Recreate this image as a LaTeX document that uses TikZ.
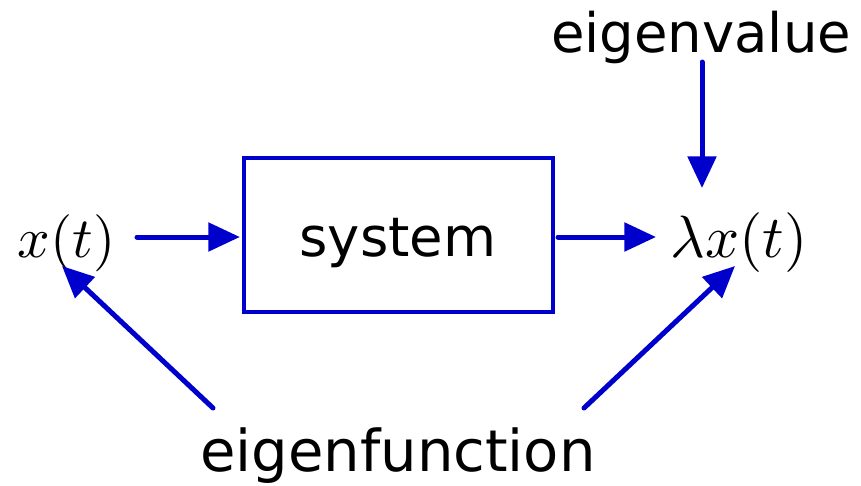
\documentclass[tikz,border=0pt]{standalone}
\usepackage{graphicx}
\usepackage{fontspec}
\setmainfont{DejaVu Sans}
\usetikzlibrary{arrows.meta}
\definecolor{sysblue}{RGB}{0,0,204}
\begin{document}
\begin{tikzpicture}[x=0.02cm,y=-0.02cm,
  lbl/.style={font=\fontsize{31}{36}\selectfont, inner sep=0pt, anchor=base},
  mathlbl/.style={inner sep=0pt, anchor=base},
  arr/.style={draw=sysblue, line width=2.85pt, line cap=round, -{Triangle[length=18pt,width=16pt]}}]
\useasboundingbox (0,0) rectangle (861,485);
\node[draw=sysblue, line width=2.3pt, minimum width=6.18cm, minimum height=3.08cm, inner sep=0pt] (sys) at (398.5,235) {};
\node[lbl] (systxt) at (398,256) {system};
\node[mathlbl] (x) at (66.5,257) {\scalebox{3.25}{$x(t)$}};
\node[mathlbl] (lx) at (739,257) {\scalebox{3.4}{$\lambda x(t)$}};
\node[lbl] (ev) at (701,52) {eigenvalue};
\node[lbl, font=\fontsize{32.8}{38}\selectfont] (ef) at (398,471) {eigenfunction};
\coordinate (xS) at (137,237);
\coordinate (lS) at (558,237);
\coordinate (lT) at (656,237);
\coordinate (evS) at (702,62);
\coordinate (evT) at (702,188);
\coordinate (efL) at (213,408);
\coordinate (efLT) at (62,266);
\coordinate (efR) at (584,408);
\coordinate (efRT) at (735,266);
\draw[arr, shorten >=1.2pt] (xS) -- (xS -| sys.west);
\draw[arr] (lS) -- (lT);
\draw[arr] (evS) -- (evT);
\draw[arr] (efL) -- (efLT);
\draw[arr] (efR) -- (efRT);
\end{tikzpicture}
\end{document}
